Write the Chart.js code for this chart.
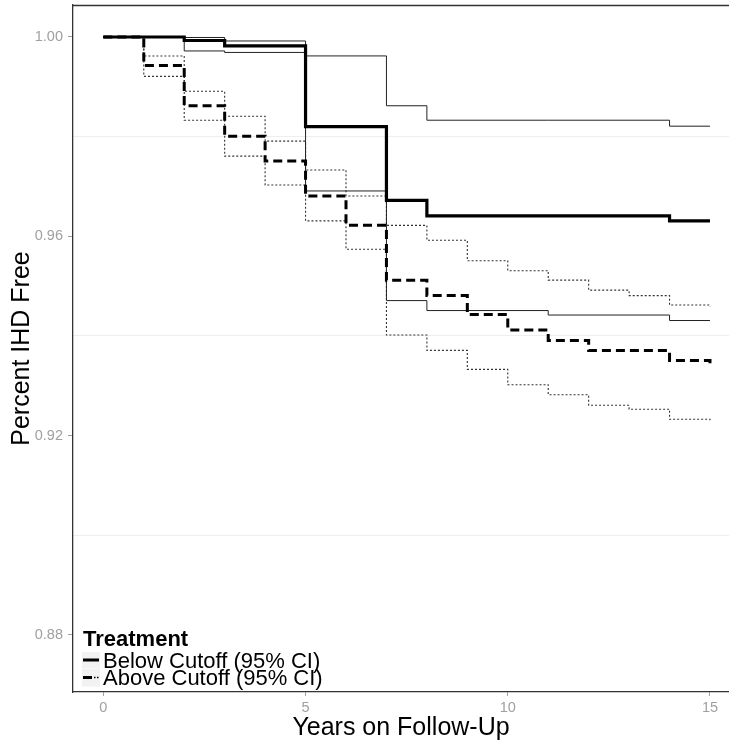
<!DOCTYPE html>
<html><head><meta charset="utf-8">
<script src="https://cdn.jsdelivr.net/npm/chart.js@4.4.1/dist/chart.umd.min.js"></script>
<style>html,body{margin:0;padding:0;background:#fff;}canvas{display:block;}</style>
</head><body>
<canvas id="c" width="729" height="746"></canvas>
<script>
// ---- Data (Kaplan-Meier step curves) ----
const belowTimes    = [0, 2, 3, 5, 7, 8, 11, 14, 15];
const belowEstimate = [1.0000, 0.9993, 0.9982, 0.9820, 0.9672, 0.9641, 0.9641, 0.9631, 0.9631];
const belowUpper    = [1.0000, 0.9999, 0.9992, 0.9962, 0.9862, 0.9833, 0.9833, 0.9821, 0.9821];
const belowLower    = [1.0000, 0.9972, 0.9969, 0.9691, 0.9471, 0.9451, 0.9442, 0.9431, 0.9431];

const aboveTimes    = [0, 1, 2, 3, 4, 5, 6, 7, 8, 9, 10, 11, 12, 13, 14, 15];
const aboveEstimate = [1.0000, 0.9943, 0.9862, 0.9801, 0.9751, 0.9681, 0.9622, 0.9512, 0.9481, 0.9443, 0.9412, 0.9391, 0.9371, 0.9371, 0.9351, 0.9345];
const aboveUpper    = [1.0000, 0.9962, 0.9891, 0.9841, 0.9791, 0.9733, 0.9681, 0.9622, 0.9592, 0.9551, 0.9531, 0.9512, 0.9492, 0.9481, 0.9462, 0.9459];
const aboveLower    = [1.0000, 0.9921, 0.9833, 0.9761, 0.9703, 0.9631, 0.9574, 0.9402, 0.9371, 0.9333, 0.9302, 0.9282, 0.9261, 0.9253, 0.9233, 0.9228];

const xTickValues = [0, 5, 10, 15];
const yTickValues = [0.88, 0.92, 0.96, 1.00];
const yMinorGrid  = [0.90, 0.94, 0.98];

const xTitle = 'Years on Follow-Up';
const yTitle = 'Percent IHD Free';
const legendTitle = 'Treatment';
const legendLabels = ['Below Cutoff (95% CI)', 'Above Cutoff (95% CI)'];

// ---- Helpers ----
const FONT = "'Liberation Sans', Arial, Helvetica, sans-serif";
const toPts = (xs, ys) => xs.map((x, i) => ({x: x, y: ys[i]}));
const near = (v, arr) => arr.some(a => Math.abs(a - v) < 1e-6);

const base = {stepped: 'before', pointRadius: 0, pointHoverRadius: 0, fill: false, tension: 0};

const datasets = [
  Object.assign({}, base, {label: 'Below estimate', data: toPts(belowTimes, belowEstimate), borderColor: '#000', borderWidth: 3.2, order: 0}),
  Object.assign({}, base, {label: 'Above estimate', data: toPts(aboveTimes, aboveEstimate), borderColor: '#000', borderWidth: 3, borderDash: [9, 5], order: 1}),
  Object.assign({}, base, {label: 'Below upper', data: toPts(belowTimes, belowUpper), borderColor: '#222', borderWidth: 1, order: 2}),
  Object.assign({}, base, {label: 'Below lower', data: toPts(belowTimes, belowLower), borderColor: '#222', borderWidth: 1, order: 3}),
  Object.assign({}, base, {label: 'Above upper', data: toPts(aboveTimes, aboveUpper), borderColor: '#333', borderWidth: 1.1, borderDash: [2, 2], order: 4}),
  Object.assign({}, base, {label: 'Above lower', data: toPts(aboveTimes, aboveLower), borderColor: '#333', borderWidth: 1.1, borderDash: [2, 2], order: 5})
];

const decor = {
  id: 'decor',
  afterDraw(chart) {
    const ctx = chart.ctx, a = chart.chartArea;
    ctx.save();
    // top panel border
    ctx.strokeStyle = '#333';
    ctx.lineWidth = 1.3;
    ctx.beginPath();
    ctx.moveTo(a.left, a.top + 0.5);
    ctx.lineTo(a.right, a.top + 0.5);
    ctx.stroke();

    // legend (inside panel, bottom-left)
    ctx.fillStyle = '#000';
    ctx.textBaseline = 'alphabetic';
    ctx.textAlign = 'left';
    ctx.font = 'bold 22px ' + FONT;
    ctx.fillText(legendTitle, 83, 646);

    // key boxes
    ctx.fillStyle = '#F2F2F2';
    ctx.fillRect(82, 652, 18, 16.5);
    ctx.fillRect(82, 669, 18, 17.5);

    ctx.strokeStyle = '#000';
    ctx.setLineDash([]);
    ctx.lineWidth = 3;
    ctx.beginPath(); ctx.moveTo(83, 660); ctx.lineTo(99, 660); ctx.stroke();
    ctx.beginPath(); ctx.moveTo(83, 677.5); ctx.lineTo(92, 677.5); ctx.stroke();
    ctx.lineWidth = 1.5;
    ctx.setLineDash([1.5, 1.5]);
    ctx.beginPath(); ctx.moveTo(94, 677.5); ctx.lineTo(100, 677.5); ctx.stroke();
    ctx.setLineDash([]);

    ctx.fillStyle = '#000';
    ctx.font = '22px ' + FONT;
    ctx.fillText(legendLabels[0], 103, 667.5);
    ctx.fillText(legendLabels[1], 103, 685);
    ctx.restore();
  }
};

new Chart(document.getElementById('c'), {
  type: 'line',
  data: {datasets: datasets},
  plugins: [decor],
  options: {
    responsive: false,
    devicePixelRatio: 1,
    animation: false,
    events: [],
    layout: {padding: {top: 5, left: 0, right: 0, bottom: 0}},
    plugins: {legend: {display: false}, tooltip: {enabled: false}},
    scales: {
      x: {
        type: 'linear',
        min: -0.75,
        max: 15.47,
        afterFit(s) { s.height = 54; s.paddingLeft = 0; s.paddingRight = 0; },
        afterBuildTicks(s) { s.ticks = xTickValues.map(v => ({value: v})); },
        grid: {color: 'rgba(0,0,0,0)', tickColor: '#A0A0A0', tickLength: 4, drawOnChartArea: false},
        border: {display: true, color: '#333', width: 1.3},
        ticks: {color: '#A0A0A0', font: {family: FONT, size: 14.5}, padding: 3, maxRotation: 0, autoSkip: false,
                callback: v => String(v)},
        title: {display: true, text: xTitle, color: '#000', font: {family: FONT, size: 25}, padding: {top: 0, bottom: 3}}
      },
      y: {
        type: 'linear',
        min: 0.86855,
        max: 1.00642,
        afterFit(s) { s.width = 73; s.paddingTop = 0; s.paddingBottom = 0; },
        afterBuildTicks(s) {
          s.ticks = yTickValues.concat(yMinorGrid).sort((a, b) => a - b).map(v => ({value: v}));
        },
        grid: {
          color: c => (c.tick && near(c.tick.value, yMinorGrid)) ? '#EEEEEE' : 'rgba(0,0,0,0)',
          tickColor: c => (c.tick && near(c.tick.value, yTickValues)) ? '#A0A0A0' : 'rgba(0,0,0,0)',
          tickLength: 5,
          lineWidth: 1
        },
        border: {display: true, color: '#333', width: 1.3},
        ticks: {color: '#A0A0A0', font: {family: FONT, size: 14.5}, padding: 5, autoSkip: false,
                callback: v => near(v, yTickValues) ? v.toFixed(2) : ''},
        title: {display: true, text: yTitle, color: '#000', font: {family: FONT, size: 25}, padding: {top: 7, bottom: 0}}
      }
    }
  }
});
</script>
</body></html>
